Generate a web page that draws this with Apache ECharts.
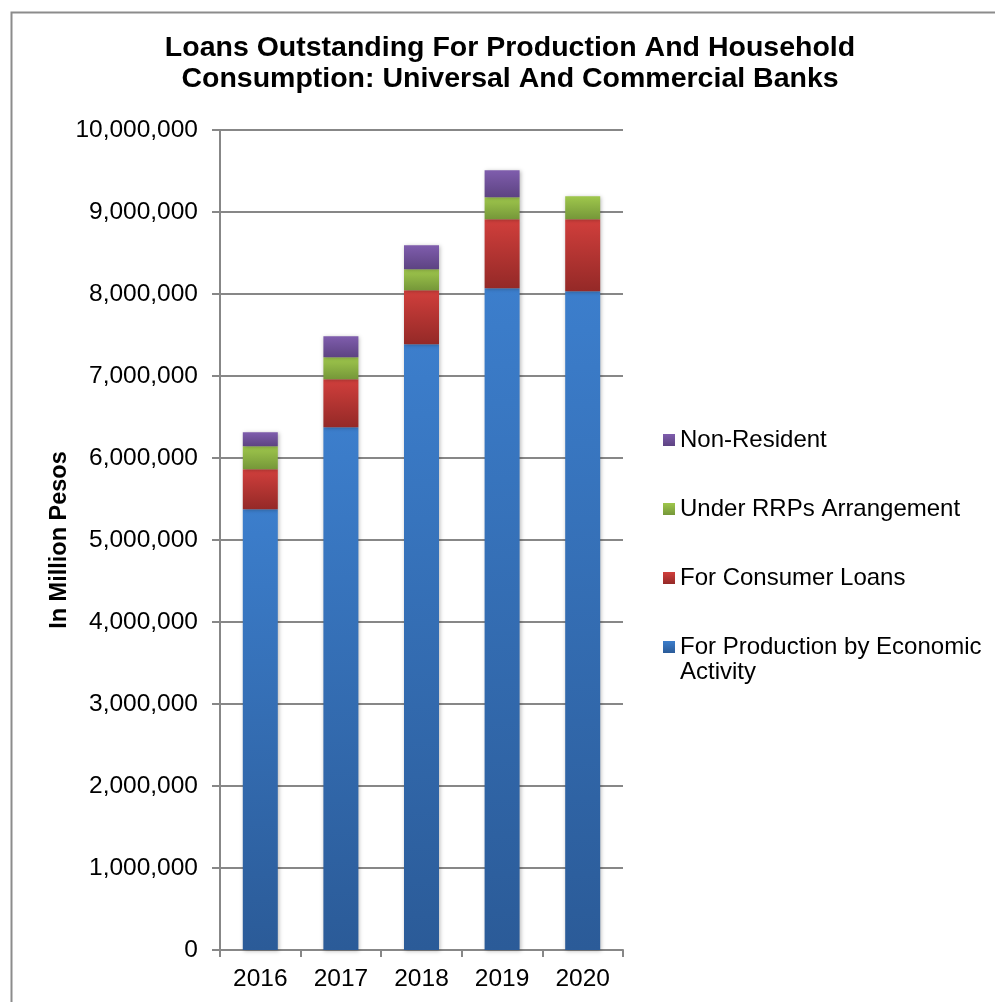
<!DOCTYPE html>
<html>
<head>
<meta charset="utf-8">
<script src="https://cdn.jsdelivr.net/npm/echarts@6/dist/echarts.min.js"></script>
<style>
  html, body { margin: 0; padding: 0; background: #fff; }
  #chart { width: 995px; height: 1002px; }
</style>
</head>
<body>
<div id="chart"></div>
<script>
// Loans outstanding, universal and commercial banks (million pesos)
const years = ['2016', '2017', '2018', '2019', '2020'];
const production = [5374000, 6374000, 7387000, 8070000, 8033000];
const consumer   = [488000, 586000, 658000, 841000, 878000];
const rrps       = [281000, 268000, 256000, 268000, 280000];
const nonResident = [170000, 256000, 293000, 330000, 0];

const FONT = '"Liberation Sans", Arial, sans-serif';
const GRID_COLOR = '#878787';

function grad(top, bottom) {
  return new echarts.graphic.LinearGradient(0, 0, 0, 1, [
    { offset: 0, color: top },
    { offset: 1, color: bottom }
  ]);
}

const barShadow = {
  shadowBlur: 4,
  shadowColor: 'rgba(0,0,0,0.28)',
  shadowOffsetX: 1,
  shadowOffsetY: 1
};

const NAME_PROD = 'For Production by Economic\nActivity';
const NAME_CONS = 'For Consumer Loans';
const NAME_RRP = 'Under RRPs Arrangement';
const NAME_NR = 'Non-Resident';

const chart = echarts.init(document.getElementById('chart'), null, { renderer: 'canvas' });

chart.setOption({
  backgroundColor: '#ffffff',
  animation: false,
  textStyle: { fontFamily: FONT },
  title: {
    text: 'Loans Outstanding For Production And Household\nConsumption: Universal And Commercial Banks',
    left: 505,
    top: 28,
    textAlign: 'center',
    textStyle: {
      fontFamily: FONT,
      fontSize: 28.5,
      fontWeight: 'bold',
      color: '#000',
      lineHeight: 31
    }
  },
  legend: [
    {
      orient: 'vertical',
      left: 658,
      top: 422.5,
      itemWidth: 12,
      itemHeight: 12,
      itemGap: 44,
      icon: 'rect',
      data: [NAME_NR, NAME_RRP, NAME_CONS],
      textStyle: { fontFamily: FONT, fontSize: 24, color: '#000', lineHeight: 25 }
    },
    {
      // two-line entry: a leading blank line keeps the marker level with the first line
      orient: 'vertical',
      left: 658,
      top: 604.5,
      itemWidth: 12,
      itemHeight: 12,
      icon: 'rect',
      data: [NAME_PROD],
      formatter: n => '\n' + n,
      textStyle: { fontFamily: FONT, fontSize: 24, color: '#000', lineHeight: 25 }
    }
  ],
  grid: {
    left: 220,
    right: 372,
    top: 130,
    bottom: 52,
    containLabel: false
  },
  xAxis: {
    type: 'category',
    data: years,
    boundaryGap: true,
    axisLine: { show: true, lineStyle: { color: GRID_COLOR, width: 2 } },
    axisTick: { show: true, length: 7, lineStyle: { color: GRID_COLOR, width: 2 } },
    axisLabel: { color: '#000', fontFamily: FONT, fontSize: 24.5, margin: 17 },
    splitLine: { show: false }
  },
  yAxis: {
    type: 'value',
    min: 0,
    max: 10000000,
    interval: 1000000,
    name: 'In Million Pesos',
    nameLocation: 'middle',
    nameRotate: 90,
    nameGap: 148,
    nameTextStyle: { fontFamily: FONT, fontSize: 23.5, fontWeight: 'bold', color: '#000' },
    axisLine: { show: true, lineStyle: { color: GRID_COLOR, width: 2 } },
    axisTick: { show: true, length: 8, lineStyle: { color: GRID_COLOR, width: 2 } },
    axisLabel: {
      color: '#000', fontFamily: FONT, fontSize: 24.5, margin: 22,
      formatter: v => v.toLocaleString('en-US')
    },
    splitLine: { show: true, lineStyle: { color: GRID_COLOR, width: 2 } }
  },
  series: [
    {
      name: NAME_PROD, type: 'bar', stack: 'loans', barWidth: 35,
      data: production,
      itemStyle: Object.assign({ color: grad('#3C7ECC', '#2B5B98') }, barShadow)
    },
    {
      name: NAME_CONS, type: 'bar', stack: 'loans', barWidth: 35,
      data: consumer,
      itemStyle: Object.assign({ color: grad('#D13F3C', '#942927') }, barShadow)
    },
    {
      name: NAME_RRP, type: 'bar', stack: 'loans', barWidth: 35,
      data: rrps,
      itemStyle: Object.assign({ color: grad('#9FC74C', '#759739') }, barShadow)
    },
    {
      name: NAME_NR, type: 'bar', stack: 'loans', barWidth: 35,
      data: nonResident,
      itemStyle: Object.assign({ color: grad('#7F5DAD', '#5D4382') }, barShadow)
    }
  ],
  graphic: [
    {
      type: 'rect',
      left: 9,
      top: 10,
      silent: true,
      z: -10,
      shape: { x: 0, y: 0, width: 1100, height: 1100 },
      style: { fill: 'none', stroke: '#8c8c8c', lineWidth: 2 }
    }
  ]
});
</script>
</body>
</html>
